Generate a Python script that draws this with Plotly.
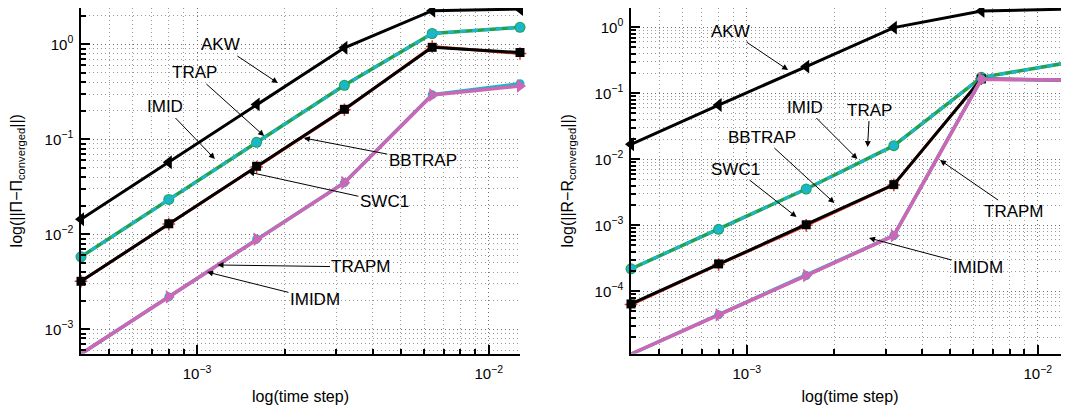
import plotly.graph_objects as go
import math

# ---------------- data ----------------
dt = [4e-4, 8e-4, 1.6e-3, 3.2e-3, 6.4e-3, 1.28e-2]

# left panel: ||Pi - Pi_converged||
pi_akw = [0.0144, 0.0573, 0.233, 0.92, 2.26, 2.35]
pi_trap = [0.0058, 0.0233, 0.093, 0.37, 1.30, 1.51]
pi_imid = [0.0058, 0.0233, 0.093, 0.37, 1.30, 1.51]
pi_bbtrap = [0.0032, 0.0129, 0.052, 0.207, 0.93, 0.82]
pi_swc1 = [0.0032, 0.0128, 0.051, 0.205, 0.95, 0.80]
pi_trapm = [0.00055, 0.00219, 0.00886, 0.0349, 0.293, 0.365]
pi_imidm = [0.00055, 0.00219, 0.0089, 0.035, 0.295, 0.385]

# right panel: ||R - R_converged||
r_akw = [0.0169, 0.0665, 0.254, 0.99, 1.77, 1.89]
r_trap = [2.19e-4, 8.7e-4, 3.55e-3, 0.0161, 0.175, 0.293]
r_imid = [2.19e-4, 8.7e-4, 3.55e-3, 0.0161, 0.175, 0.293]
r_bbtrap = [6.44e-5, 2.6e-4, 1.02e-3, 4.14e-3, 0.165, 0.159]
r_swc1 = [6.3e-5, 2.55e-4, 1.0e-3, 4.1e-3, 0.166, 0.159]
r_trapm = [1.12e-5, 4.39e-5, 1.73e-4, 6.98e-4, 0.163, 0.159]
r_imidm = [1.12e-5, 4.4e-5, 1.74e-4, 7.0e-4, 0.165, 0.159]

x_tickvals = [1e-3, 1e-2]
x_ticktext = ["10<sup>\u22123</sup>", "10<sup>\u22122</sup>"]
yl_tickvals = [1e-3, 1e-2, 1e-1, 1]
yl_ticktext = ["10<sup>\u22123</sup>", "10<sup>\u22122</sup>", "10<sup>\u22121</sup>", "10<sup>0</sup>"]
yr_tickvals = [1e-4, 1e-3, 1e-2, 1e-1, 1]
yr_ticktext = ["10<sup>\u22124</sup>", "10<sup>\u22123</sup>", "10<sup>\u22122</sup>", "10<sup>\u22121</sup>", "10<sup>0</sup>"]

x_title = "log(time step)"
yl_title = "log(||\u03a0\u2212\u03a0<sub>converged</sub>||)"
yr_title = "log(||R\u2212R<sub>converged</sub>||)"

# ---------------- styles ----------------
FONT = "Liberation Sans, Arial, Helvetica, sans-serif"
BLACK = "#000000"
CYAN = "#1AB6C9"
GREEN = "#22A050"
MAGENTA = "#CC66B5"
RED = "#E8312A"

OFF = 8  # page body margin in the browser
W, H = 1069 - OFF, 409 - OFF
left_px = (81 - OFF, 520 - OFF)
right_px = (631 - OFF, 1069 - OFF)
bot_px = 353.5 - OFF

fig = go.Figure()


def add_series(xa, ya, akw, trap, imid, bbtrap, swc1, trapm, imidm):
    common = dict(x=dt, xaxis=xa, yaxis=ya, mode="lines+markers",
                  showlegend=False, cliponaxis=False)
    fig.add_trace(go.Scatter(y=akw, name="AKW",
                             line=dict(color=BLACK, width=3),
                             marker=dict(symbol="triangle-left", size=12, color=BLACK), **common))
    fig.add_trace(go.Scatter(y=trap, name="TRAP",
                             line=dict(color=GREEN, width=3.5),
                             marker=dict(symbol="circle", size=11, color=GREEN), **common))
    fig.add_trace(go.Scatter(y=imid, name="IMID",
                             line=dict(color=CYAN, width=3, dash="6px,6px"),
                             marker=dict(symbol="circle", size=9, color=CYAN), **common))
    fig.add_trace(go.Scatter(y=swc1, name="SWC1",
                             line=dict(color=RED, width=3),
                             marker=dict(symbol="cross-thin", size=9, color=RED,
                                         line=dict(color=RED, width=1.5)), **common))
    fig.add_trace(go.Scatter(y=bbtrap, name="BBTRAP",
                             line=dict(color=BLACK, width=3),
                             marker=dict(symbol="square", size=9, color=BLACK), **common))
    fig.add_trace(go.Scatter(y=imidm, name="IMIDM",
                             line=dict(color=CYAN, width=3.5),
                             marker=dict(symbol="circle", size=9, color=CYAN), **common))
    fig.add_trace(go.Scatter(y=trapm, name="TRAPM",
                             line=dict(color=MAGENTA, width=3.5),
                             marker=dict(symbol="triangle-right", size=12, color=MAGENTA), **common))


add_series("x", "y", pi_akw, pi_trap, pi_imid, pi_bbtrap, pi_swc1, pi_trapm, pi_imidm)
add_series("x2", "y2", r_akw, r_trap, r_imid, r_bbtrap, r_swc1, r_trapm, r_imidm)

minor_vals = [m * 10.0 ** e for e in range(-6, 2) for m in range(2, 10)]
GRID_MAJOR = "#6a6a6a"
GRID_MINOR = "#9a9a9a"
DOTS = "1px,3px"


def xaxis(px, anchor):
    return dict(type="log", domain=[px[0] / W, px[1] / W],
                range=[math.log10(dt[0]), math.log10(dt[-1])],
                anchor=anchor, tickmode="array", tickvals=x_tickvals, ticktext=x_ticktext,
                ticks="inside", ticklen=9, tickwidth=1.5, tickcolor=BLACK,
                showline=True, linecolor=BLACK, linewidth=1.5, mirror=False,
                showgrid=True, gridcolor=GRID_MAJOR, griddash=DOTS, gridwidth=1,
                minor=dict(tickmode="array", tickvals=minor_vals, ticks="inside", ticklen=5,
                           tickwidth=1.5, tickcolor=BLACK, showgrid=True,
                           gridcolor=GRID_MINOR, griddash=DOTS, gridwidth=1),
                tickfont=dict(family=FONT, size=15, color=BLACK),
                ticklabelstandoff=6,
                title=dict(text=x_title, font=dict(family=FONT, size=16, color=BLACK), standoff=10),
                automargin=False, zeroline=False)


def yaxis(rng, tv, tt, title, anchor, standoff):
    return dict(type="log", domain=[1 - bot_px / H, 1.0], range=rng,
                anchor=anchor, tickmode="array", tickvals=tv, ticktext=tt,
                ticks="inside", ticklen=9, tickwidth=1.5, tickcolor=BLACK,
                showline=True, linecolor=BLACK, linewidth=1.5, mirror=False,
                showgrid=True, gridcolor=GRID_MAJOR, griddash=DOTS, gridwidth=1,
                minor=dict(tickmode="array", tickvals=minor_vals, ticks="inside", ticklen=5,
                           tickwidth=1.5, tickcolor=BLACK, showgrid=True,
                           gridcolor=GRID_MINOR, griddash=DOTS, gridwidth=1),
                tickfont=dict(family=FONT, size=15, color=BLACK),
                ticklabelstandoff=3,
                title=dict(text=title, font=dict(family=FONT, size=16, color=BLACK), standoff=standoff),
                automargin=False, zeroline=False)


fig.update_layout(
    width=W, height=H, template="none",
    margin=dict(l=0, r=0, t=0, b=0),
    paper_bgcolor="white", plot_bgcolor="white",
    showlegend=False,
    xaxis=xaxis(left_px, "y"),
    yaxis=yaxis([-3.255, 0.3825], yl_tickvals, yl_ticktext, yl_title, "x", 21),
    xaxis2=xaxis(right_px, "y2"),
    yaxis2=yaxis([-4.942, 0.293], yr_tickvals, yr_ticktext, yr_title, "x2", 17),
)

# annotation labels: (text, head log10 x, head log10 y, tail dx px, tail dy px)
left_notes = [
    ("AKW", -2.723, -0.407, -57, -38),
    ("TRAP", -2.770, -0.965, -70, -63),
    ("IMID", -2.939, -1.207, -50, -52),
    ("BBTRAP", -2.634, -0.986, 119, 23),
    ("SWC1", -2.824, -1.344, 136, 30),
    ("TRAPM", -2.930, -2.323, 144, 2),
    ("IMIDM", -2.966, -2.397, 108, 27),
]
right_notes = [
    ("AKW", -2.858, -0.647, -58, -39),
    ("IMID", -2.620, -1.995, -52, -52),
    ("TRAP", -2.585, -1.814, 2, -37),
    ("BBTRAP", -2.699, -2.662, -72, -66),
    ("SWC1", -2.829, -2.874, -61, -48),
    ("TRAPM", -2.336, -2.011, 74, 51),
    ("IMIDM", -2.580, -3.192, 109, 29),
]

for notes, xr, yr in [(left_notes, "x", "y"), (right_notes, "x2", "y2")]:
    for text, hx, hy, dx, dy in notes:
        fig.add_annotation(x=hx, y=hy, xref=xr, yref=yr, text=text,
                           showarrow=True, ax=dx, ay=dy, arrowhead=2, arrowsize=1.2,
                           arrowwidth=1, arrowcolor=BLACK, standoff=0,
                           font=dict(family=FONT, size=17, color=BLACK))

fig.write_html("out.html")
